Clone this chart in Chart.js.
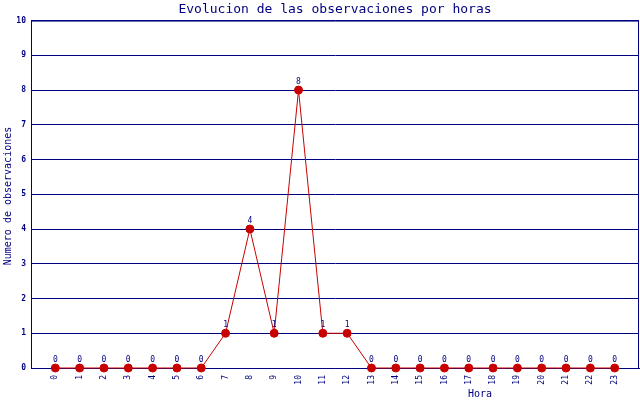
<!DOCTYPE html>
<html>
<head>
<meta charset="utf-8">
<script src="https://cdn.jsdelivr.net/npm/chart.js@4/dist/chart.umd.min.js"></script>
<style>
  html, body { margin: 0; padding: 0; background: #fff; }
  #wrap { width: 640px; height: 400px; }
</style>
</head>
<body>
<div id="wrap"><canvas id="myChart" width="640" height="400"></canvas></div>
<script>
// data
const horas = [0,1,2,3,4,5,6,7,8,9,10,11,12,13,14,15,16,17,18,19,20,21,22,23];
const observaciones = [0,0,0,0,0,0,0,1,4,1,8,1,1,0,0,0,0,0,0,0,0,0,0,0];
const yTicks = [0,1,2,3,4,5,6,7,8,9,10];

const navy = '#000080';
const red = '#c80000';
const mono = 'DejaVu Sans Mono';

const points = horas.map(function(h, i){ return {x: h, y: observaciones[i]}; });

// frame, axis titles and value labels
const extras = {
  id: 'extras',
  afterDatasetsDraw(chart){
    const ctx = chart.ctx;
    const a = chart.chartArea;
    ctx.save();
    ctx.strokeStyle = navy;
    ctx.lineWidth = 1;
    ctx.beginPath();
    ctx.moveTo(a.left, a.top + 0.5);
    ctx.lineTo(a.right - 0.5, a.top + 0.5);
    ctx.lineTo(a.right - 0.5, a.bottom);
    ctx.stroke();

    // value labels
    ctx.fillStyle = navy;
    ctx.font = '8px "' + mono + '"';
    ctx.textAlign = 'center';
    ctx.textBaseline = 'bottom';
    const meta = chart.getDatasetMeta(0);
    meta.data.forEach(function(p, i){
      ctx.fillText(String(observaciones[i]), p.x, p.y - 4);
    });

    // axis titles
    ctx.font = '10px "' + mono + '"';
    ctx.textBaseline = 'middle';
    ctx.fillText('Hora', 480, 394);
    ctx.translate(8, 196);
    ctx.rotate(-Math.PI / 2);
    ctx.fillText('Numero de observaciones', 0, 0);
    ctx.restore();
  }
};

new Chart(document.getElementById('myChart'), {
  type: 'line',
  data: {
    datasets: [{
      label: 'Observaciones',
      data: points,
      borderColor: red,
      backgroundColor: red,
      borderWidth: 1,
      pointRadius: 4,
      pointHoverRadius: 4,
      pointBackgroundColor: red,
      pointBorderColor: red,
      tension: 0,
      clip: false
    }]
  },
  options: {
    responsive: false,
    animation: false,
    maintainAspectRatio: false,
    layout: { autoPadding: false, padding: { left: 0, right: 1, top: 0, bottom: 0 } },
    plugins: {
      legend: { display: false },
      tooltip: { enabled: false },
      title: {
        display: true,
        text: 'Evolucion de las observaciones por horas',
        color: navy,
        fullSize: false,
        font: { family: mono, size: 13, weight: 'normal' },
        padding: { top: 2, bottom: 3 }
      }
    },
    scales: {
      x: {
        type: 'linear',
        min: -1,
        max: 24,
        afterFit: function(s){ s.height = 32; s.paddingLeft = 0; s.paddingRight = 0; },
        afterBuildTicks: function(s){
          s.ticks = horas.map(function(h){ return {value: h}; });
        },
        grid: { display: false, drawTicks: false },
        border: { display: true, color: navy, width: 1 },
        ticks: {
          autoSkip: false,
          minRotation: 90,
          maxRotation: 90,
          padding: 7,
          color: navy,
          font: { family: mono, size: 8 }
        }
      },
      y: {
        min: 0,
        max: 10,
        afterFit: function(s){ s.width = 31; s.paddingTop = 0; s.paddingBottom = 0; },
        afterBuildTicks: function(s){
          s.ticks = yTicks.map(function(v){ return {value: v}; });
        },
        grid: { color: navy, lineWidth: 1, drawTicks: false },
        border: { display: true, color: navy, width: 1 },
        ticks: {
          padding: 5,
          color: navy,
          font: { family: mono, size: 8, weight: 'bold' }
        }
      }
    }
  },
  plugins: [extras]
});
</script>
</body>
</html>
